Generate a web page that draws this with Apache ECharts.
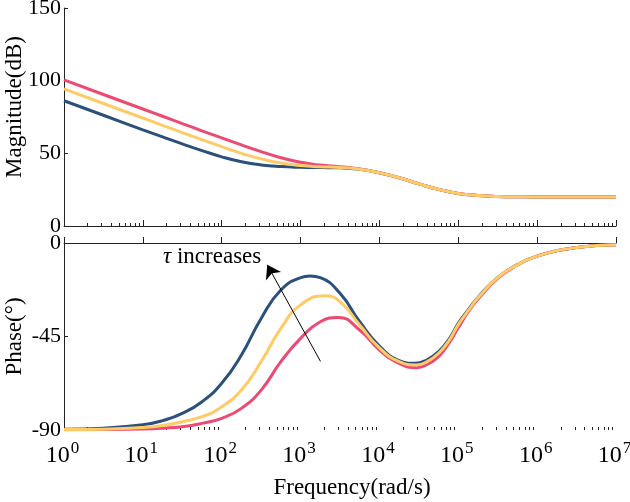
<!DOCTYPE html>
<html>
<head>
<meta charset="utf-8">
<script src="https://cdn.jsdelivr.net/npm/echarts@6/dist/echarts.min.js"></script>
<style>
html, body { margin: 0; padding: 0; background: #fff; }
#chart-container { width: 630px; height: 502px; }
</style>
</head>
<body>
<div id="chart-container"></div>
<script>
// frequency points as powers of ten (rad/s)
var freqExp = [0, 0.5, 1, 1.25, 1.5, 1.75, 2, 2.25, 2.5, 2.75, 3, 3.25, 3.5, 3.75, 4, 4.25, 4.5, 4.75, 5, 5.25, 5.5, 5.75, 6, 6.5, 7];

var magBlue   = [86.2, 76.2, 66.2, 61.3, 56.5, 51.9, 47.6, 44.2, 42.0, 40.9, 40.4, 40.2, 40.0, 39.0, 36.6, 33.2, 29.0, 25.2, 22.4, 21.0, 20.3, 20.1, 20.0, 20.0, 20.0];
var magPink   = [100.5, 90.5, 80.5, 75.5, 70.5, 65.5, 60.6, 55.8, 51.2, 47.0, 43.8, 41.9, 40.8, 39.3, 36.6, 33.2, 29.0, 25.2, 22.4, 21.0, 20.3, 20.1, 20.0, 20.0, 20.0];
var magYellow = [94.3, 84.3, 74.3, 69.3, 64.3, 59.4, 54.6, 50.0, 46.2, 43.3, 41.6, 40.8, 40.3, 39.1, 36.6, 33.2, 29.0, 25.2, 22.4, 21.0, 20.3, 20.1, 20.0, 20.0, 20.0];

// phase curves, each with its own sample points (peaks and dips included)
var phaseExpBlue = [0, 0.5, 1, 1.25, 1.5, 1.75, 2, 2.25, 2.5, 2.75, 3, 3.12, 3.25, 3.5, 3.75, 4, 4.25, 4.45, 4.6, 4.75, 4.875, 5, 5.125, 5.25, 5.5, 5.75, 6, 6.5, 7];
var phaseBlue    = [-89.6, -89.1, -87.5, -85.5, -82.0, -76.4, -67.5, -53.9, -36.3, -22.6, -16.7, -15.9, -16.7, -24.2, -37.9, -49.6, -56.6, -57.9, -56.3, -52.3, -46.7, -38.7, -32.2, -26.2, -16.5, -10.4, -6.3, -2.2, -0.8];

var phaseExpYellow = [0, 0.5, 1, 1.25, 1.5, 1.75, 2, 2.25, 2.5, 2.75, 3, 3.31, 3.5, 3.75, 4, 4.25, 4.47, 4.6, 4.75, 4.875, 5, 5.125, 5.25, 5.5, 5.75, 6, 6.5, 7];
var phaseYellow    = [-89.8, -89.6, -88.8, -87.8, -86.0, -83.6, -78.8, -70.8, -57.1, -41.1, -29.8, -25.4, -28.2, -39.5, -50.5, -57.1, -58.7, -57.2, -53.1, -47.4, -39.3, -32.6, -26.4, -16.6, -10.5, -6.3, -2.2, -0.8];

var phaseExpPink = [0, 0.5, 1, 1.25, 1.5, 1.75, 2, 2.25, 2.5, 2.75, 3, 3.25, 3.48, 3.75, 4, 4.25, 4.47, 4.6, 4.75, 4.875, 5, 5.125, 5.25, 5.5, 5.75, 6, 6.5, 7];
var phasePink    = [-89.9, -89.8, -89.5, -89.1, -88.4, -86.8, -84.4, -79.6, -70.8, -57.1, -45.9, -37.9, -35.8, -41.9, -51.5, -57.9, -60.0, -58.6, -54.7, -48.6, -40.8, -33.2, -27.0, -17.0, -10.6, -6.3, -2.2, -0.8];

var decadeTicks = [1, 10, 100, 1e3, 1e4, 1e5, 1e6, 1e7];
var minorTicks = [];
decadeTicks.slice(0, -1).forEach(function (d) {
	for (var k = 2; k <= 9; k++) minorTicks.push(d * k);
});

// arrow for "tau increases" (frequency, phase)
var arrowFrom = [1790, -57];
var arrowTo = [378, -10.5];

var colors = { blue: '#2b507c', pink: '#ec4a72', yellow: '#ffcb66' };
var serif = '"Liberation Serif", "Times New Roman", serif';

function pairs(exps, vals) {
	return vals.map(function (v, i) { return [Math.pow(10, exps[i]), v]; });
}

var dom = document.getElementById('chart-container');
var myChart = echarts.init(dom, null, { renderer: 'canvas' });

var axisLineStyle = { color: '#222', width: 1 };

function xAxes(gridIndex, showLabels) {
	return [
		{
			type: 'log', logBase: 10, gridIndex: gridIndex, min: 1, max: 1e7, position: 'bottom',
			axisLine: { show: true, lineStyle: axisLineStyle },
			axisTick: { show: true, inside: true, length: 6, customValues: decadeTicks, lineStyle: axisLineStyle },
			splitLine: { show: false },
			axisLabel: showLabels ? {
				show: true, customValues: decadeTicks, margin: 10,
				formatter: function (v) { return '{b|10}{s|' + Math.round(Math.log10(v)) + '}'; },
				rich: {
					b: { fontSize: 24, fontFamily: serif, color: '#000' },
					s: { fontSize: 17, fontFamily: serif, color: '#000', padding: [0, 3, 15, 1] }
				}
			} : { show: false },
			name: showLabels ? 'Frequency(rad/s)' : '',
			nameLocation: 'middle', nameGap: 46, nameMoveOverlap: false,
			nameTextStyle: { fontSize: 23, fontFamily: serif, color: '#000', padding: [0, 0, 0, 24] }
		},
		{
			type: 'log', logBase: 10, gridIndex: gridIndex, min: 1, max: 1e7, position: 'bottom',
			axisLine: { show: false },
			axisTick: { show: true, inside: true, length: 3, customValues: minorTicks, lineStyle: axisLineStyle },
			splitLine: { show: false },
			axisLabel: { show: false }
		}
	];
}

function yAxis(gridIndex, min, max, interval, name, namePad) {
	return {
		type: 'value', gridIndex: gridIndex, min: min, max: max, interval: interval,
		axisLine: { show: true, lineStyle: axisLineStyle },
		axisTick: { show: true, inside: true, length: 4, lineStyle: axisLineStyle },
		splitLine: { show: false },
		axisLabel: { fontSize: 22, fontFamily: serif, color: '#000', margin: 3 },
		name: name, nameLocation: 'middle', nameGap: 38, nameMoveOverlap: false,
		nameTextStyle: { fontSize: 23, fontFamily: serif, color: '#000', padding: namePad }
	};
}

function line(name, data, color, xi, yi, extra) {
	var s = {
		name: name, type: 'line', xAxisIndex: xi, yAxisIndex: yi,
		data: data, smooth: 0.5, showSymbol: false, symbol: 'none',
		lineStyle: { color: color, width: 3 }, itemStyle: { color: color },
		animation: false
	};
	return Object.assign(s, extra || {});
}

var option = {
	animation: false,
	grid: [
		{ left: 64, right: 14, top: 8, height: 218, containLabel: false, outerBoundsMode: 'none' },
		{ left: 64, right: 14, top: 243, height: 187, containLabel: false, outerBoundsMode: 'none' }
	],
	xAxis: xAxes(0, false).concat(xAxes(1, true)),
	yAxis: [
		yAxis(0, 0, 150, 50, 'Magnitude(dB)', [0, 0, 0, 20]),
		yAxis(1, -90, 0, 45, 'Phase(°)', [0, 0, 0, 0])
	],
	graphic: [{
		type: 'text', left: 163, top: 245, z: 100,
		style: {
			text: '{t|τ} increases',
			font: '23px ' + serif, fill: '#000',
			rich: { t: { fontStyle: 'italic', fontSize: 23, fontFamily: serif } }
		}
	}],
	series: [
		line('blue', pairs(freqExp, magBlue), colors.blue, 0, 0),
		line('pink', pairs(freqExp, magPink), colors.pink, 0, 0),
		line('yellow', pairs(freqExp, magYellow), colors.yellow, 0, 0),
		line('blue', pairs(phaseExpBlue, phaseBlue), colors.blue, 2, 1, {
			markLine: {
				silent: true, symbol: ['none', 'arrow'], symbolSize: 13,
				lineStyle: { color: '#000', width: 1, type: 'solid' },
				itemStyle: { color: '#000' },
				label: { show: false },
				emphasis: { disabled: true },
				z: 10,
				data: [[{ coord: arrowFrom }, { coord: arrowTo }]]
			}
		}),
		line('pink', pairs(phaseExpPink, phasePink), colors.pink, 2, 1),
		line('yellow', pairs(phaseExpYellow, phaseYellow), colors.yellow, 2, 1)
	]
};

myChart.setOption(option);
</script>
</body>
</html>
